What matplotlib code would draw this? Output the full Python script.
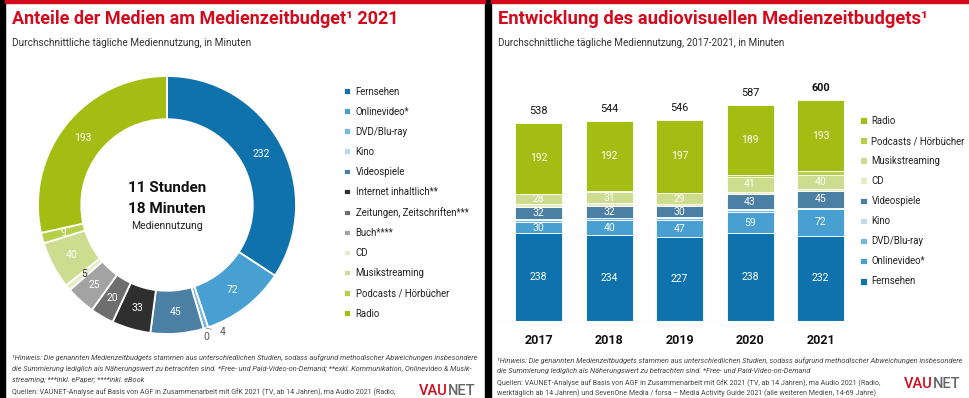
import matplotlib
matplotlib.use("Agg")
from matplotlib import pyplot as plt
from matplotlib.patches import Rectangle
import numpy as np

plt.rcParams['font.family'] = ['Roboto', 'DejaVu Sans']

W, H = 970, 398
RED = '#d20a1e'
TXT = '#333333'

# --- donut data (2021) ---
media = ['Fernsehen', 'Onlinevideo*', 'DVD/Blu-ray', 'Kino', 'Videospiele',
         'Internet inhaltlich**', 'Zeitungen, Zeitschriften***', 'Buch****',
         'CD', 'Musikstreaming', 'Podcasts / Hörbücher', 'Radio']
minutes_2021 = [232, 72, 4, 0, 45, 33, 20, 25, 5, 40, 9, 193]
media_colors = ['#0f72ad', '#47a0d1', '#79b8df', '#bcdaee', '#4b7fa3', '#2f2f2f',
                '#6e6e6e', '#a3a3a3', '#e6edc4', '#cddc8e', '#b7d04c', '#a4bd12']

# --- stacked bars (bottom -> top) ---
years = ['2017', '2018', '2019', '2020', '2021']
av_cats = ['Fernsehen', 'Onlinevideo*', 'DVD/Blu-ray', 'Kino', 'Videospiele',
           'CD', 'Musikstreaming', 'Podcasts / Hörbücher', 'Radio']
fernsehen = [238, 234, 227, 238, 232]
onlinevideo = [30, 40, 47, 59, 72]
dvd = [6, 5, 5, 5, 4]
kino = [3, 2, 3, 1, 0]
videospiele = [32, 32, 30, 43, 45]
cd = [8, 7, 6, 5, 5]
musikstreaming = [28, 31, 29, 41, 40]
podcasts = [1, 1, 2, 6, 9]
radio = [192, 192, 197, 189, 193]
av_values = [fernsehen, onlinevideo, dvd, kino, videospiele, cd, musikstreaming, podcasts, radio]
av_labeled = ['Fernsehen', 'Onlinevideo*', 'Videospiele', 'Musikstreaming', 'Radio']


def fx(x):
    return x / W


def fy(y):
    return 1 - y / H


fig = plt.figure(figsize=(W / 100, H / 100), dpi=100)
fig.patch.set_facecolor('white')

# frame strips
fig.patches.append(Rectangle((0, 0), fx(5), 1, transform=fig.transFigure, color='black'))
fig.patches.append(Rectangle((fx(485), 0), fx(6), 1, transform=fig.transFigure, color='black'))
fig.patches.append(Rectangle((fx(5), fy(3)), fx(480), fy(0) - fy(3), transform=fig.transFigure, color=RED))
fig.patches.append(Rectangle((fx(491), fy(3)), fx(479), fy(0) - fy(3), transform=fig.transFigure, color=RED))

# titles
fig.text(fx(12), fy(19), 'Anteile der Medien am Medienzeitbudget¹ 2021', color=RED,
         fontsize=13, fontweight='bold', va='center')
fig.text(fx(12), fy(43), 'Durchschnittliche tägliche Mediennutzung, in Minuten', color=TXT,
         fontsize=7.2, va='center')
fig.text(fx(498), fy(19), 'Entwicklung des audiovisuellen Medienzeitbudgets¹', color=RED,
         fontsize=13.2, fontweight='bold', va='center')
fig.text(fx(498), fy(43), 'Durchschnittliche tägliche Mediennutzung, 2017-2021, in Minuten', color=TXT,
         fontsize=7.1, va='center')

# ---------------- donut ----------------
cx, cy, R = 167, 205, 129
ax1 = fig.add_axes([fx(cx - R), fy(cy + R), 2 * R / W, 2 * R / H])
wedges, _ = ax1.pie(minutes_2021, colors=media_colors, startangle=90, counterclock=False,
                    radius=1, wedgeprops=dict(width=0.335, edgecolor='white', linewidth=1.3))
ax1.set_xlim(-1, 1)
ax1.set_ylim(-1, 1)
ax1.set_aspect('equal')
ax1.axis('off')

for name, w, v in zip(media, wedges, minutes_2021):
    ang = np.deg2rad((w.theta1 + w.theta2) / 2)
    if name == 'Kino':
        ax1.text(1.07 * np.cos(ang), 1.07 * np.sin(ang), str(v), color='#555555',
                 fontsize=7.5, ha='center', va='center')
    elif name == 'DVD/Blu-ray':
        ax1.annotate(str(v), xy=(1.0 * np.cos(ang), 1.0 * np.sin(ang)),
                     xytext=(0.43, -0.985), color='#555555', fontsize=7.5, ha='center', va='center',
                     arrowprops=dict(arrowstyle='-', color='#888888', lw=0.6,
                                     shrinkA=4, shrinkB=0))
    else:
        col = TXT if name == 'CD' else 'white'
        ax1.text(0.833 * np.cos(ang), 0.833 * np.sin(ang), str(v), color=col,
                 fontsize=7.5, ha='center', va='center')

fig.text(fx(cx), fy(188), '11 Stunden', fontsize=11, fontweight='bold', ha='center', va='center', color='#111111')
fig.text(fx(cx), fy(209), '18 Minuten', fontsize=11, fontweight='bold', ha='center', va='center', color='#111111')
fig.text(fx(cx), fy(226), 'Mediennutzung', fontsize=7.5, ha='center', va='center', color='#222222')

leg_kw = dict(loc='upper left', frameon=False, fontsize=6.9, handlelength=0.7, handleheight=0.7,
              handletextpad=0.5, labelspacing=1.05, borderpad=0, borderaxespad=0,
              labelcolor='#222222')
fig.legend(wedges, media, bbox_to_anchor=(fx(344), fy(87)), **leg_kw)

# ---------------- stacked bars ----------------
pxmin = 0.368
ax_top, ax_bot = 60, 321
ax2 = fig.add_axes([fx(495), fy(ax_bot), 360 / W, (ax_bot - ax_top) / H])
x = np.arange(len(years))
bottom = np.zeros(len(years))
containers = []
for name, vals in zip(av_cats, av_values):
    col = media_colors[media.index(name)]
    bc = ax2.bar(x, vals, width=0.667, bottom=bottom, color=col, label=name,
                 edgecolor='white', linewidth=0.6)
    containers.append(bc)
    if name in av_labeled:
        ax2.bar_label(bc, labels=[str(v) for v in vals], label_type='center',
                      color='white', fontsize=7.5)
    bottom = bottom + np.array(vals)

for i, tot in enumerate(bottom):
    ax2.annotate(str(int(tot)), xy=(x[i], tot), xytext=(0, 5), textcoords='offset points',
                 ha='center', va='bottom', fontsize=7.8, color='#111111',
                 fontweight='bold' if i == len(years) - 1 else 'normal')

ax2.set_xlim(-0.62, 4.49)
ax2.set_ylim(0, (ax_bot - ax_top) / pxmin)
ax2.axhline(0, color='#d5d5d5', lw=0.8)
for s in ax2.spines.values():
    s.set_visible(False)
ax2.set_yticks([])
ax2.set_xticks(x)
ax2.set_xticklabels(years, fontsize=9, fontweight='bold', color='#111111')
ax2.tick_params(axis='x', length=0, pad=9)

fig.legend(containers[::-1], av_cats[::-1], bbox_to_anchor=(fx(860), fy(116)), **leg_kw)

# ---------------- footnotes ----------------
note1 = '¹Hinweis: Die genannten Medienzeitbudgets stammen aus unterschiedlichen Studien, sodass aufgrund methodischer Abweichungen insbesondere'
left_notes = [note1,
              'die Summierung lediglich als Näherungswert zu betrachten sind. *Free- und Paid-Video-on-Demand; **exkl. Kommunikation, Onlinevideo & Musik-',
              'streaming; ***inkl. ePaper; ****inkl. eBook']
right_notes = [note1,
               'die Summierung lediglich als Näherungswert zu betrachten sind. *Free- und Paid-Video-on-Demand']
src1 = 'Quellen: VAUNET-Analyse auf Basis von AGF in Zusammenarbeit mit GfK 2021 (TV, ab 14 Jahren), ma Audio 2021 (Radio,'
src2 = 'werktäglich ab 14 Jahren) und SevenOne Media / forsa – Media Activity Guide 2021 (alle weiteren Medien, 14-69 Jahre)'

for yy, t in zip([358, 369, 380], left_notes):
    fig.text(fx(12), fy(yy), t, fontsize=5.3, style='italic', color='#444444', va='center')
fig.text(fx(12), fy(392), src1, fontsize=5.15, color='#444444', va='center')

for yy, t in zip([361, 371.5], right_notes):
    fig.text(fx(497), fy(yy), t, fontsize=5.3, style='italic', color='#444444', va='center')
fig.text(fx(497), fy(383), src1, fontsize=5.15, color='#444444', va='center')
fig.text(fx(497), fy(393), src2, fontsize=5.15, color='#444444', va='center')

# logos
for lx, ly in [(448, 391), (933, 384)]:
    fig.text(fx(lx), fy(ly), 'VAU', color=RED, fontsize=10.5, fontweight='medium', ha='right', va='center')
    fig.text(fx(lx), fy(ly), 'NET', color='#666666', fontsize=10.5, fontweight='medium', ha='left', va='center')

fig.savefig('out.png', dpi=100)
